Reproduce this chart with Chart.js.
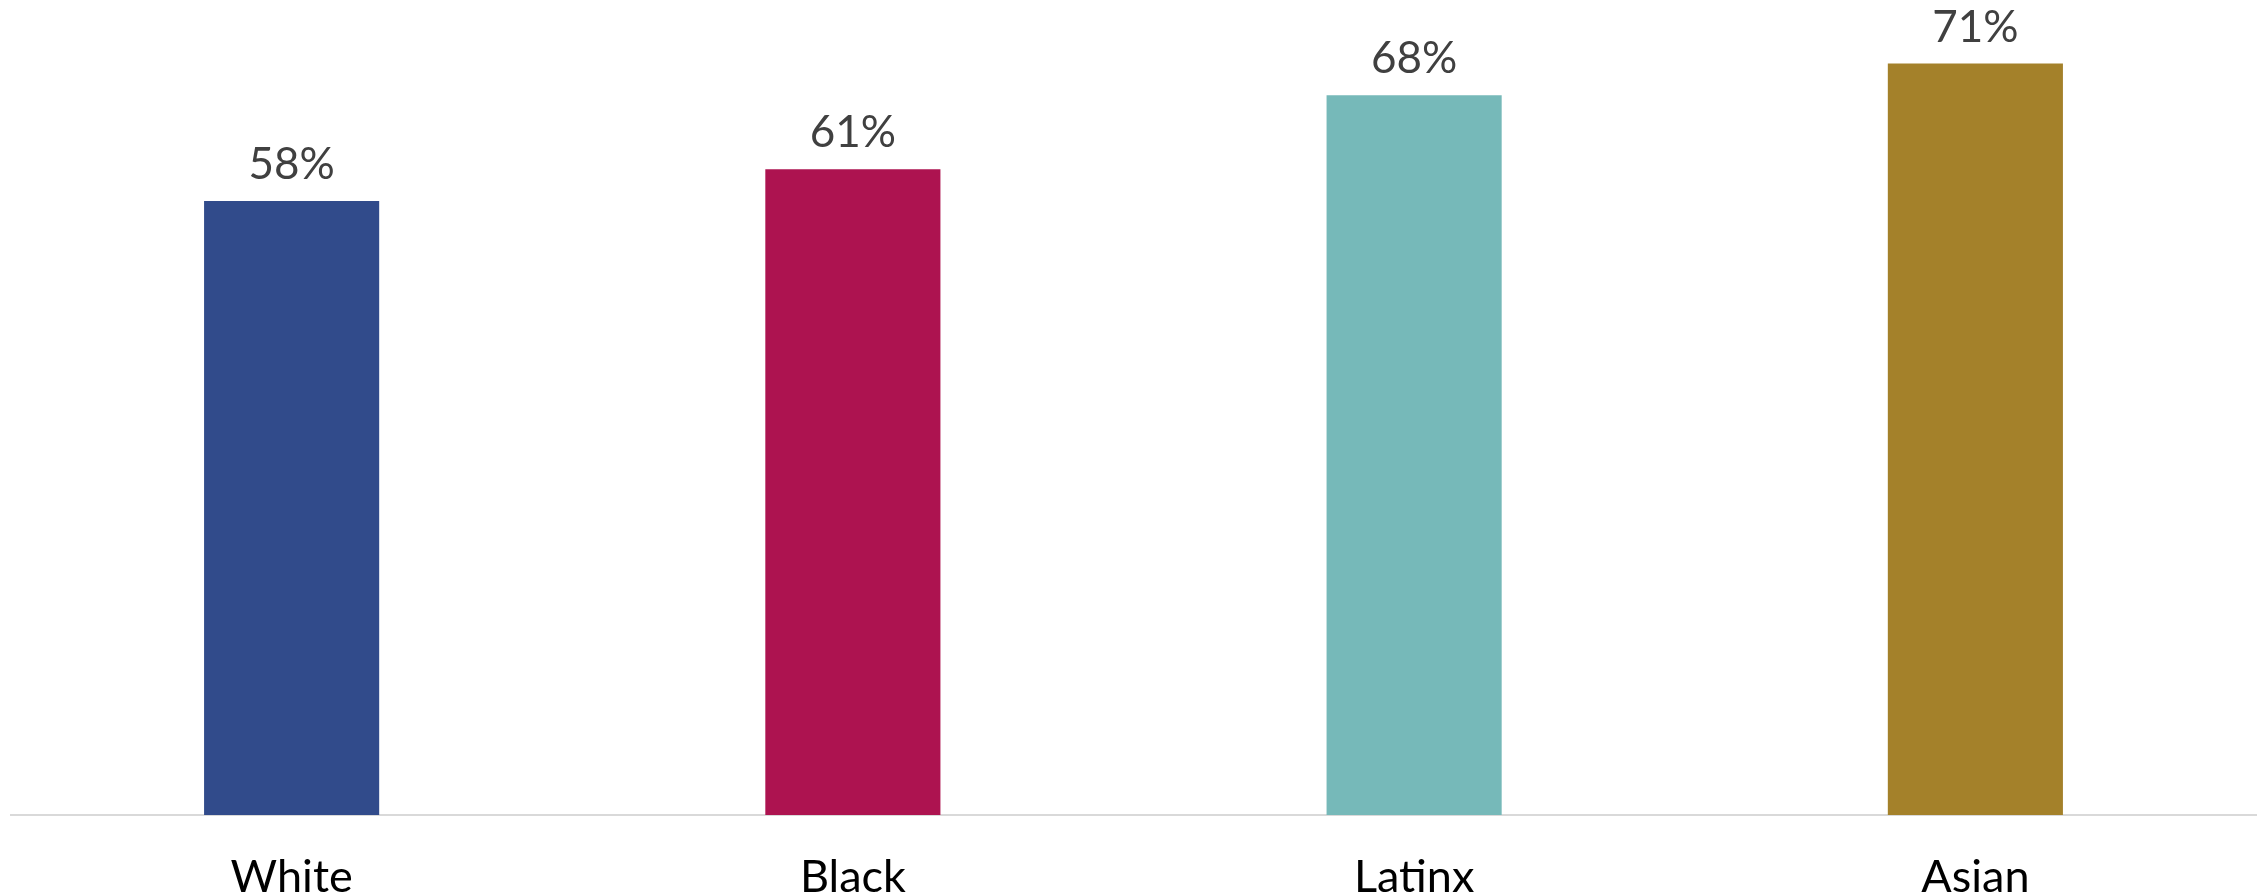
<!DOCTYPE html>
<html>
<head>
<meta charset="utf-8">
<script src="https://cdn.jsdelivr.net/npm/chart.js@4"></script>
<style>
  html, body { margin: 0; padding: 0; background: #fff; }
</style>
</head>
<body>
<canvas id="bar-chart" width="2262" height="893"></canvas>
<script>
const categories = ["White", "Black", "Latinx", "Asian"];
const values = [58, 61, 68, 71];
const barColors = ["#314B8B", "#AD1350", "#76B9B9", "#A4812A"];

// draws the "58%" style labels above each bar
const valueLabels = {
  id: 'valueLabels',
  afterDatasetsDraw(chart) {
    const ctx = chart.ctx;
    const meta = chart.getDatasetMeta(0);
    ctx.save();
    ctx.font = '44px Lato';
    ctx.fillStyle = '#404040';
    ctx.textAlign = 'center';
    ctx.textBaseline = 'alphabetic';
    meta.data.forEach((bar, i) => {
      ctx.fillText(values[i] + '%', bar.x, bar.y - 22);
    });
    ctx.restore();
  }
};

const myChart = new Chart(document.getElementById("bar-chart"), {
  type: 'bar',
  data: {
    labels: categories,
    datasets: [{
      data: values,
      backgroundColor: barColors,
      categoryPercentage: 1,
      barPercentage: 0.312
    }]
  },
  options: {
    responsive: false,
    animation: false,
    layout: { padding: { left: 11, right: 6, top: 0, bottom: 0 } },
    plugins: {
      legend: { display: false },
      tooltip: { enabled: false }
    },
    scales: {
      x: {
        grid: { display: false, drawTicks: false },
        border: { display: true, color: '#D9D9D9', width: 2 },
        ticks: { color: '#000', font: { family: 'Lato', size: 45 }, padding: 35 },
        afterFit(scale) { scale.height = 78; }
      },
      y: {
        display: false,
        min: 0,
        max: 77
      }
    }
  },
  plugins: [valueLabels]
});
</script>
</body>
</html>
